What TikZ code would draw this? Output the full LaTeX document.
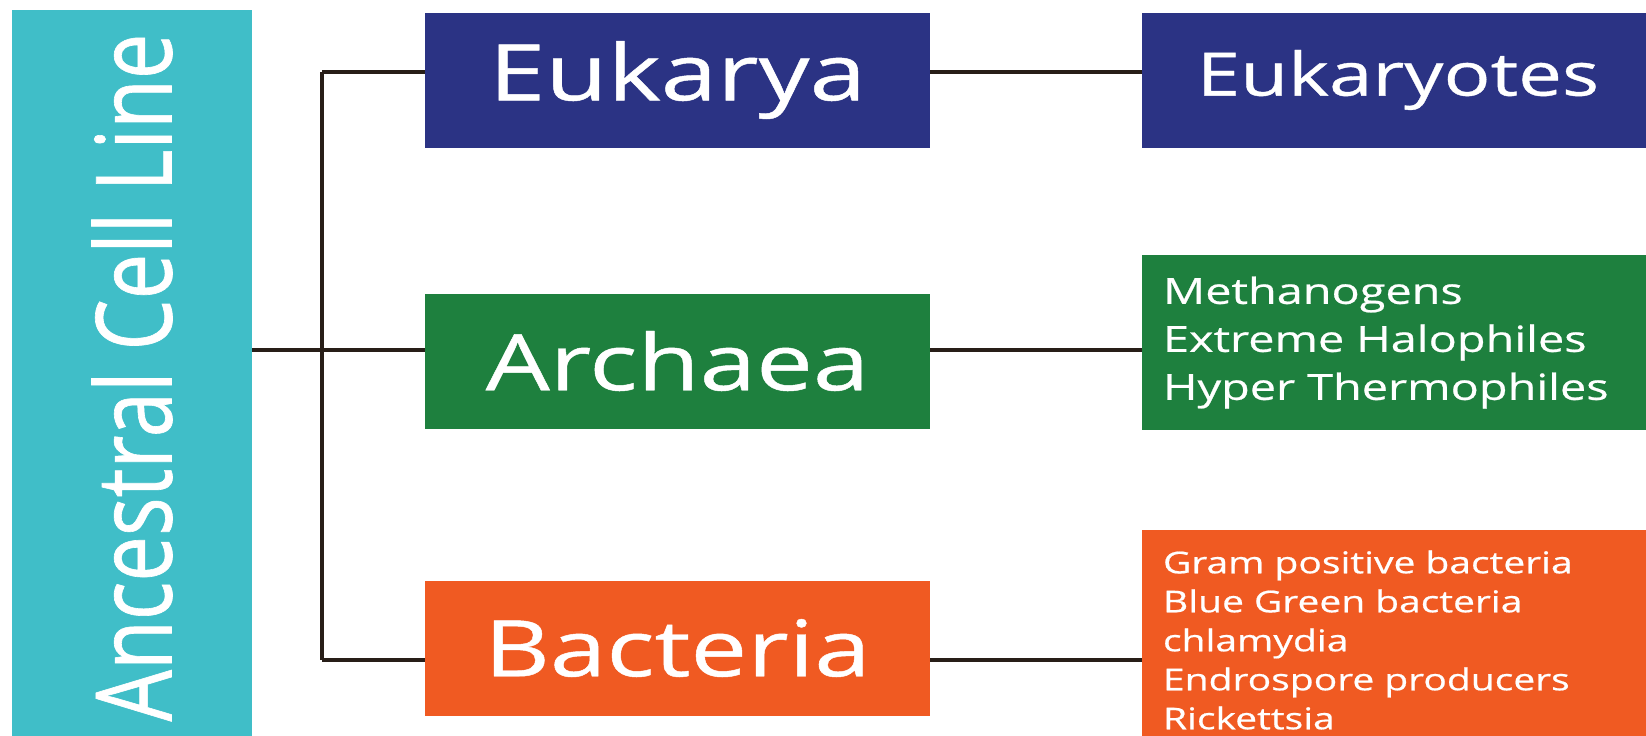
\documentclass[tikz,border=0pt]{standalone}
\usepackage{fontspec}
\setmainfont{Open Sans}
\newfontfamily\wideface[FakeStretch=1.3,FakeBold=0.6]{Open Sans}
\newfontfamily\tallface[FakeStretch=0.77,FakeBold=0.6]{Open Sans}
\definecolor{ancestorcyan}{RGB}{64,190,200}
\definecolor{eukblue}{RGB}{43,51,132}
\definecolor{archgreen}{RGB}{30,128,62}
\definecolor{bactorange}{RGB}{240,90,34}
\definecolor{linebrown}{RGB}{40,30,24}

\tikzset{
  domainbox/.style={text=white, inner sep=0pt, minimum width=252.5pt, minimum height=67.5pt,
    font=\wideface\fontsize{39}{44}\selectfont},
  groupbox/.style={text=white, inner xsep=10.5pt, inner ysep=0pt, text width=235pt, align=left},
  branch/.style={draw=linebrown, line width=2pt}
}

\begin{document}
\begin{tikzpicture}[x=0.5pt, y=-0.5pt]
\useasboundingbox (0,0) rectangle (1646,735);
\clip (0,0) rectangle (1646,735);

% ancestral line
\node[fill=ancestorcyan, text=white, rotate=90, inner sep=0pt, minimum width=367.5pt, minimum height=120pt,
  font=\tallface\fontsize{52.7}{58}\selectfont] (ancestor) at (132,377.5) {Ancestral Cell Line};

% domains
\node[domainbox, fill=eukblue] (eukarya) at (677.5,80) {Eukarya};
\node[domainbox, fill=archgreen] (archaea) at (677.5,361) {Archaea};
\node[domainbox, fill=bactorange] (bacteria) at (677.5,648) {Bacteria};

% groups
\node[text=white, fill=eukblue, inner sep=0pt, minimum width=256pt, minimum height=67.5pt,
  font=\wideface\fontsize{30}{36}\selectfont] (eukaryotes) at (1398,80) {Eukaryotes};
\node[groupbox, fill=archgreen, minimum height=87.5pt,
  font=\wideface\fontsize{18}{24}\selectfont] (archgroups) at (1398,342.5)
  {Methanogens\\Extreme Halophiles\\Hyper Thermophiles};
\node[groupbox, fill=bactorange, minimum height=110pt,
  font=\wideface\fontsize{15}{19.5}\selectfont] (bactgroups) at (1398,640)
  {Gram positive bacteria\\Blue Green bacteria\\chlamydia\\Endrospore producers\\Rickettsia};

% tree
\coordinate (split) at (322,350);
\coordinate (topfork) at (322,72);
\coordinate (lowfork) at (322,660);

\draw[branch] (ancestor.south |- split) -- (split);
\draw[branch] (topfork) -- (lowfork);
\draw[branch] (topfork) -- (eukarya.west |- topfork);
\draw[branch] (split) -- (archaea.west |- split);
\draw[branch] (lowfork) -- (bacteria.west |- lowfork);

\draw[branch] (eukarya.east |- topfork) -- (eukaryotes.west |- topfork);
\draw[branch] (archaea.east |- split) -- (archgroups.west |- split);
\draw[branch] (bacteria.east |- lowfork) -- (bactgroups.west |- lowfork);
\end{tikzpicture}
\end{document}
